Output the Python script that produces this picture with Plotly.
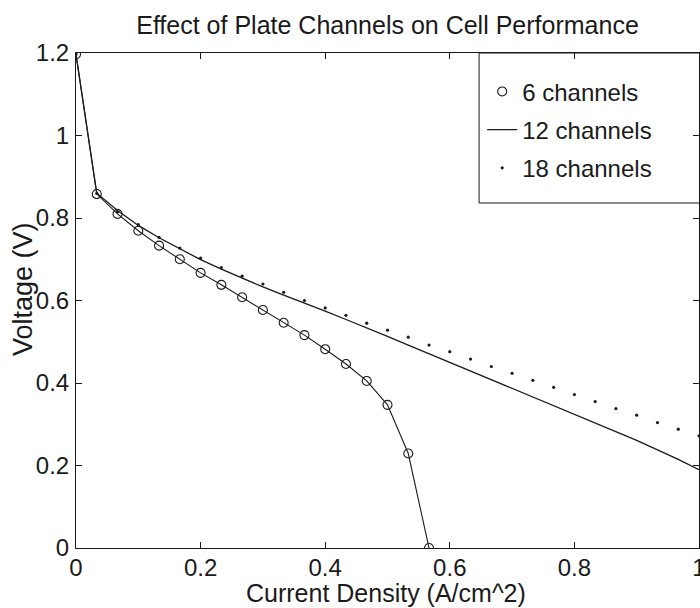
import plotly.graph_objects as go

# ---- data ----
x6 = [0, 1/30, 2/30, 3/30, 4/30, 5/30, 6/30, 7/30, 8/30, 9/30, 10/30, 11/30,
      12/30, 13/30, 14/30, 15/30, 16/30, 17/30]
v6 = [1.197, 0.858, 0.810, 0.769, 0.733, 0.700, 0.667, 0.638, 0.608, 0.577,
      0.546, 0.516, 0.482, 0.446, 0.405, 0.347, 0.229, 0.0]

x12 = [k / 30 for k in range(31)]
v12 = [1.197, 0.860, 0.818, 0.782, 0.752, 0.725, 0.699, 0.676, 0.654, 0.633,
       0.613, 0.594, 0.574, 0.554, 0.534, 0.513, 0.492, 0.471, 0.450, 0.430,
       0.409, 0.388, 0.367, 0.346, 0.325, 0.304, 0.283, 0.261, 0.238, 0.215,
       0.190]

x18 = [k / 30 for k in range(31)]
v18 = [1.197, 0.860, 0.815, 0.784, 0.753, 0.727, 0.703, 0.680, 0.659, 0.640,
       0.620, 0.600, 0.582, 0.564, 0.545, 0.528, 0.511, 0.492, 0.476, 0.458,
       0.440, 0.4235, 0.4065, 0.3895, 0.372, 0.355, 0.338, 0.322, 0.304,
       0.288, 0.272]

names = ["6 channels", "12 channels", "18 channels"]
x_ticks = [0, 0.2, 0.4, 0.6, 0.8, 1]
x_tick_text = ["0", "0.2", "0.4", "0.6", "0.8", "1"]
y_ticks = [0, 0.2, 0.4, 0.6, 0.8, 1, 1.2]
y_tick_text = ["0", "0.2", "0.4", "0.6", "0.8", "1", "1.2"]
title_text = "Effect of Plate Channels on Cell Performance"
x_title = "Current Density (A/cm^2)"
y_title = "Voltage (V)"

FONT = "Liberation Sans, Arial, Helvetica, sans-serif"
INK = "#1a1a1a"

# plot-area geometry in pixels
L, R, T, B = 76, 699, 53, 548
W, H = 700, 608
PW, PH = R - L, B - T

fig = go.Figure()

# line joining the 6-channel points (not in legend)
fig.add_trace(go.Scatter(x=x6, y=v6, mode="lines",
                         line=dict(color=INK, width=1.1),
                         showlegend=False, hoverinfo="skip"))
fig.add_trace(go.Scatter(x=x6, y=v6, mode="markers", name=names[0],
                         legendgroup="a",
                         marker=dict(symbol="circle-open", size=9,
                                     color=INK, line=dict(width=1.1, color=INK))))
fig.add_trace(go.Scatter(x=x12, y=v12, mode="lines", name=names[1],
                         legendgroup="b",
                         line=dict(color=INK, width=1.3)))
fig.add_trace(go.Scatter(x=x18, y=v18, mode="markers", name=names[2],
                         legendgroup="c",
                         marker=dict(symbol="circle", size=3.2, color=INK)))

axis_common = dict(
    showgrid=False, zeroline=False, showline=True, linecolor=INK, linewidth=1,
    mirror="ticks", ticks="inside", ticklen=6, tickwidth=1, tickcolor=INK,
    tickfont=dict(family=FONT, size=24, color=INK),
    ticklabeloverflow="allow",
)

fig.update_xaxes(range=[0, 1], tickvals=x_ticks, ticktext=x_tick_text,
                 ticklabelstandoff=-2, **axis_common)
fig.update_yaxes(range=[0, 1.2], tickvals=y_ticks, ticktext=y_tick_text,
                 ticklabelstandoff=1, **axis_common)

# axis titles placed as annotations for precise positioning
fig.add_annotation(text=x_title, xref="paper", yref="paper",
                   x=(386 - L) / PW, y=(B - 593) / PH,
                   xanchor="center", yanchor="middle", showarrow=False,
                   font=dict(family=FONT, size=25, color=INK))
fig.add_annotation(text=y_title, xref="paper", yref="paper",
                   x=(23 - L) / PW, y=(B - 289) / PH, textangle=-90,
                   xanchor="center", yanchor="middle", showarrow=False,
                   font=dict(family=FONT, size=27, color=INK))

# legend frame (extends past the right edge as in the reference)
fig.add_shape(type="rect", xref="paper", yref="paper",
              x0=0.647, x1=1.05, y0=0.697, y1=1.0,
              line=dict(color=INK, width=1), fillcolor="rgba(0,0,0,0)",
              layer="above")

fig.update_layout(
    width=W, height=H,
    margin=dict(l=L, r=W - R, t=T, b=H - B, autoexpand=False),
    paper_bgcolor="white", plot_bgcolor="white",
    font=dict(family=FONT, color=INK),
    title=dict(text=title_text,
               font=dict(family=FONT, size=25, color=INK),
               x=(L + R) / 2 / W, xanchor="center",
               y=1 - 25 / H, yanchor="middle", yref="container"),
    legend=dict(x=0.652, xanchor="left", y=0.967, yanchor="top",
                bgcolor="rgba(0,0,0,0)", borderwidth=0,
                font=dict(family=FONT, size=24, color=INK),
                tracegroupgap=4, itemwidth=30),
    showlegend=True,
)

fig.write_html("out.html")
